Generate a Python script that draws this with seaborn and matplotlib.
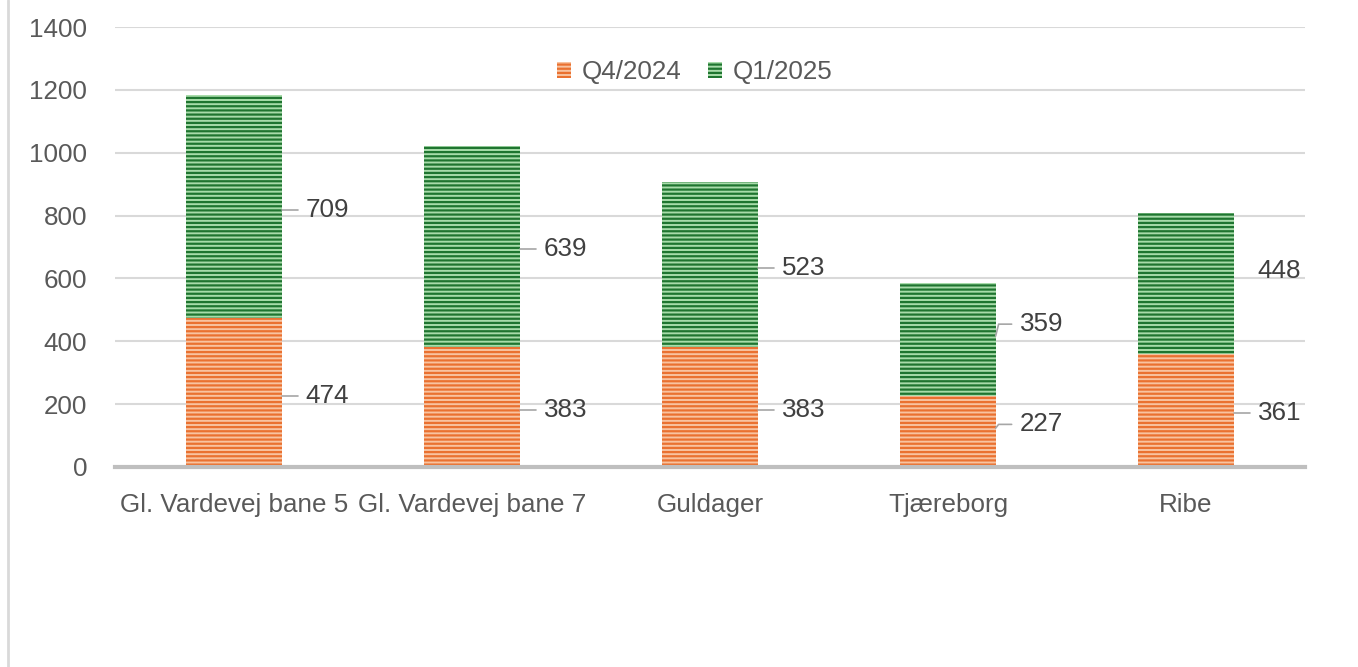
import matplotlib
matplotlib.use("Agg")
import matplotlib.pyplot as plt
from matplotlib.patches import Patch
from matplotlib.lines import Line2D
import pandas as pd
import seaborn as sns

categories = ["Gl. Vardevej bane 5", "Gl. Vardevej bane 7", "Guldager", "Tjæreborg", "Ribe"]
q4_2024 = [474, 383, 383, 227, 361]
q1_2025 = [709, 639, 523, 359, 448]
series_names = ["Q4/2024", "Q1/2025"]

sns.set_style("white")
plt.rcParams["font.family"] = ["Liberation Sans", "DejaVu Sans"]
plt.rcParams["hatch.linewidth"] = 1.6

orange_face, orange_hatch = "#F8C3A0", "#EA7130"
green_face, green_hatch = "#A8DCAA", "#1F7530"
text_col = "#595959"
label_col = "#404040"
lead_col = "#A6A6A6"
fs = 18.7

df = pd.DataFrame({"cat": categories, "q4": q4_2024, "q1": q1_2025})
df["total"] = df["q4"] + df["q1"]

fig = plt.figure(figsize=(13.58, 6.67), dpi=100)
ax = fig.add_axes([0.0847, 0.2999, 0.8763, 0.6596])

# stacked bars: total (green) first, then Q4 (orange) over it
sns.barplot(data=df, x="cat", y="total", color=green_face, saturation=1, width=0.4, ax=ax)
sns.barplot(data=df, x="cat", y="q4", color=orange_face, saturation=1, width=0.4, ax=ax)

n = len(categories)
for i, p in enumerate(ax.patches):
    hatch_col = green_hatch if i < n else orange_hatch
    p.set_hatch("----")
    p.set_edgecolor(hatch_col)
    p.set_linewidth(0)

ax.set_ylim(0, 1400)
ax.set_xlim(-0.5, n - 0.5)
ax.set_yticks(range(0, 1401, 200))
ax.yaxis.grid(True, color="#D9D9D9", linewidth=1.5)
ax.set_axisbelow(True)
for s in ["left", "right", "top"]:
    ax.spines[s].set_visible(False)
ax.spines["bottom"].set_color("#BFBFBF")
ax.spines["bottom"].set_linewidth(3)
ax.spines["bottom"].set_zorder(5)
ax.tick_params(axis="y", length=0, pad=20, labelsize=fs, labelcolor=text_col)
ax.tick_params(axis="x", length=0, pad=19, labelsize=fs, labelcolor=text_col)
ax.set_xlabel("")
ax.set_ylabel("")

# data labels with leader lines (label y shift in data units, and whether a leader is drawn)
q4_shift = [-10, -10, -10, 22, -10]
q1_shift = [-10, -10, -10, 48, 39]
q1_leader = [True, True, True, True, False]
px = 1.0 / 238
for i in range(n):
    right = i + 0.2
    segs = [(q4_2024[i] / 2, q4_shift[i], q4_2024[i], True),
            (q4_2024[i] + q1_2025[i] / 2, q1_shift[i], q1_2025[i], q1_leader[i])]
    for mid, shift, val, lead in segs:
        y_lab = mid + shift
        if lead:
            if shift > 10:
                ax.plot([right, right + 3 * px, right + 16 * px], [mid + 10, y_lab, y_lab],
                        color=lead_col, linewidth=1.2, zorder=4, clip_on=False)
            else:
                ax.plot([right, right + 16 * px], [y_lab, y_lab],
                        color=lead_col, linewidth=1.2, zorder=4, clip_on=False)
        ax.text(right + 24 * px, y_lab, str(val), ha="left", va="center",
                fontsize=fs, color=label_col, zorder=6)

handles = [Patch(facecolor=orange_face, edgecolor=orange_hatch, hatch="----", linewidth=0),
           Patch(facecolor=green_face, edgecolor=green_hatch, hatch="----", linewidth=0)]
ax.legend(handles, series_names, loc="center", bbox_to_anchor=(0.487, 0.898), ncol=2,
          frameon=False, fontsize=fs, labelcolor=text_col, handlelength=0.55,
          handleheight=0.55, handletextpad=0.42, columnspacing=1.0)

fig.add_artist(Line2D([0.0059, 0.0059], [0, 1], color="#D9D9D9", linewidth=2))

fig.savefig("out.png", dpi=100)
